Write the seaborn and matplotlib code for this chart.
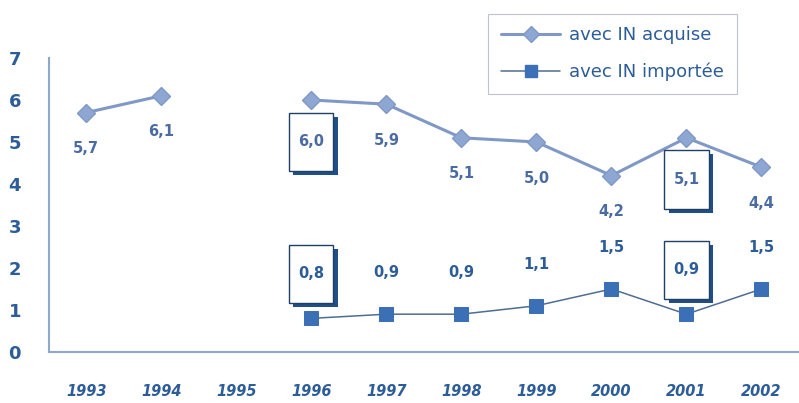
import matplotlib
matplotlib.use("Agg")
import matplotlib.pyplot as plt
import matplotlib.patheffects as pe
import seaborn as sns
import numpy as np
import pandas as pd

# data
years = [1993, 1994, 1995, 1996, 1997, 1998, 1999, 2000, 2001, 2002]
acquise = [5.7, 6.1, np.nan, 6.0, 5.9, 5.1, 5.0, 4.2, 5.1, 4.4]
importee = [np.nan, np.nan, np.nan, 0.8, 0.9, 0.9, 1.1, 1.5, 0.9, 1.5]
boxed_years = [1996, 2001]

lab_acq = "avec IN acquise"
lab_imp = "avec IN importée"

txt_col = "#2d5d98"
acq_txt = "#4a6ca2"
acq_col = "#7f98c6"
acq_mk = "#8ea6d2"
imp_col = "#3b70b6"
axis_col = "#8ea8cc"


def fmt(v):
    return ("%.1f" % v).replace(".", ",")


def segments(vals):
    # split series at gaps so lines are not drawn across missing years
    seg, out = 0, []
    for v in vals:
        if np.isnan(v):
            seg += 1
        out.append(seg)
    return out


df_acq = pd.DataFrame({"year": years, "val": acquise, "seg": segments(acquise)}).dropna()
df_imp = pd.DataFrame({"year": years, "val": importee, "seg": segments(importee)}).dropna()

sns.set_style("white")
plt.rcParams["font.family"] = ["DejaVu Sans"]

fig = plt.figure(figsize=(7.99, 4.03), dpi=100)
ax = fig.add_axes([0.061, 0.1266, 0.939, 0.7295])

sns.lineplot(data=df_acq, x="year", y="val", units="seg", estimator=None, ax=ax,
             color=acq_col, lw=2.2, marker="D", markersize=9,
             markerfacecolor=acq_mk, markeredgecolor=acq_col, markeredgewidth=1)
sns.lineplot(data=df_imp, x="year", y="val", units="seg", estimator=None, ax=ax,
             color="#4f6d92", lw=1.1, marker="s", markersize=10,
             markerfacecolor=imp_col, markeredgecolor=imp_col)


def label(x, v, dy, boxed, col):
    s = fmt(v)
    kw = dict(textcoords="offset points", ha="center", va="center",
              fontsize=10.5, fontweight="bold", color=col)
    if boxed:
        t = ax.annotate("\n" + s + "\n", (x, v), xytext=(0, dy), linespacing=0.8,
                        bbox=dict(boxstyle="square,pad=0.62", fc="white", ec="#1f3f66", lw=1),
                        **kw)
        t.get_bbox_patch().set_path_effects([
            pe.SimplePatchShadow(offset=(3, -3), shadow_rgbFace="#1f4f86", alpha=1),
            pe.Normal()])
    else:
        ax.annotate(s, (x, v), xytext=(0, dy), **kw)


for x, v in zip(years, acquise):
    if not np.isnan(v):
        label(x, v, -30 if x in boxed_years else -26, x in boxed_years, acq_txt)
for x, v in zip(years, importee):
    if not np.isnan(v):
        label(x, v, 32 if x in boxed_years else 30, x in boxed_years, txt_col)

ax.set_xlim(1992.5, 2002.5)
ax.set_ylim(0, 7)
ax.set_xlabel("")
ax.set_ylabel("")
ax.set_yticks(range(0, 8))
ax.set_xticks(years)
ax.set_xticklabels([str(y) for y in years], fontsize=10.5, fontweight="bold",
                   color=txt_col, fontstyle="italic")
ax.set_xticks(np.arange(1992.5, 2003, 1), minor=True)
ax.tick_params(axis="x", which="major", length=0, pad=23)
ax.tick_params(axis="x", which="minor", length=5, color=axis_col, width=1.2, direction="out")
ax.tick_params(axis="y", length=6, color=axis_col, width=1.2, direction="out", pad=14,
               labelsize=13, labelcolor=txt_col)
for t in ax.get_yticklabels():
    t.set_fontweight("bold")

for side in ["top", "right"]:
    ax.spines[side].set_visible(False)
for side in ["left", "bottom"]:
    ax.spines[side].set_color(axis_col)
    ax.spines[side].set_linewidth(1.5)
ax.spines["left"].set_bounds(0, 7)

handles = [
    plt.Line2D([], [], color=acq_col, lw=2.2, marker="D", markersize=8,
               markerfacecolor=acq_mk, markeredgecolor=acq_col),
    plt.Line2D([], [], color="#4f6d92", lw=1.1, marker="s", markersize=9,
               markerfacecolor=imp_col, markeredgecolor=imp_col),
]
leg = fig.legend(handles, [lab_acq, lab_imp], loc="upper left",
                 bbox_to_anchor=(0.611, 0.966), frameon=True, fancybox=False,
                 fontsize=13, handlelength=3.3, handletextpad=0.5,
                 labelspacing=1.0, borderpad=0.7, borderaxespad=0)
leg.get_frame().set_edgecolor("#aab6c8")
leg.get_frame().set_linewidth(0.8)
for t in leg.get_texts():
    t.set_color(txt_col)

fig.savefig("out.png", dpi=100)
